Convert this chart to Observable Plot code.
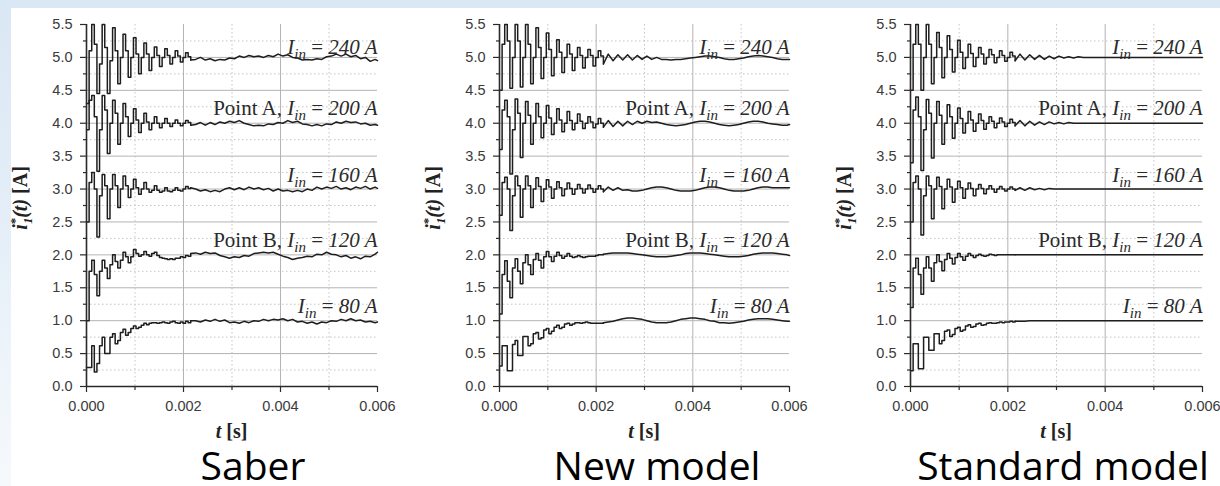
<!DOCTYPE html>
<html>
<head>
<meta charset="utf-8">
<script src="https://cdn.jsdelivr.net/npm/d3@7"></script>
<script src="https://cdn.jsdelivr.net/npm/@observablehq/plot@0.6"></script>
<style>
  html, body { margin: 0; padding: 0; }
  body { width: 1220px; height: 486px; overflow: hidden; position: relative;
         background: linear-gradient(to bottom, #dae7f4 0%, #e6eff8 50%, #f6f9fc 100%); }
  #sheet { position: absolute; left: 11px; top: 8px; width: 1209px; height: 478px; background: #ffffff; }
  .cap { position: absolute; font-family: "Open Sans", sans-serif; font-size: 39px; line-height: 39px;
         color: #000; text-align: center; white-space: nowrap; }
</style>
</head>
<body>
<div id="sheet"></div>
<script>
// ---------- sample times (ms) ----------
const T_MS = [0, 0.054, 0.108, 0.161, 0.215, 0.269, 0.323, 0.376, 0.43, 0.484,
  0.538, 0.591, 0.645, 0.699, 0.753, 0.806, 0.86, 0.914, 0.968, 1.021,
  1.075, 1.129, 1.183, 1.236, 1.29, 1.344, 1.398, 1.451, 1.505, 1.559,
  1.613, 1.666, 1.72, 1.774, 1.828, 1.881, 1.935, 1.989, 2.043, 2.096,
  2.15,
  2.25, 2.35, 2.45, 2.55, 2.65, 2.75, 2.85, 2.95, 3.05, 3.15,
  3.25, 3.35, 3.45, 3.55, 3.65, 3.75, 3.85, 3.95, 4.05, 4.15,
  4.25, 4.35, 4.45, 4.55, 4.65, 4.75, 4.85, 4.95, 5.05, 5.15,
  5.25, 5.35, 5.45, 5.55, 5.65, 5.75, 5.85, 5.95, 6.0];
const STEP_END = 40; // index where the stepped start-up part ends

// ---------- Saber ----------
const saber_240 = [4.3, 5.1, 5.5, 5.2, 4.45, 4.9, 5.5, 5.15, 4.45, 4.95,
  5.45, 5.1, 4.6, 5.0, 5.35, 5.1, 4.7, 5.0, 5.3, 5.05,
  4.75, 5.0, 5.22, 5.05, 4.8, 5.0, 5.16, 5.03, 4.86, 5.0,
  5.13, 5.03, 4.9, 5.0, 5.1, 5.02, 4.93, 5.0, 5.07, 5.01,
  4.96,
  4.97, 5.00, 4.96, 4.98, 4.95, 4.97, 4.96, 4.99, 4.98, 5.02,
  5.00, 5.03, 5.01, 5.02, 5.00, 5.03, 5.01, 5.05, 5.02, 5.04,
  5.00, 4.99, 4.96, 4.97, 4.96, 4.98, 4.97, 5.01, 5.02, 5.05,
  5.02, 5.05, 5.01, 5.03, 4.98, 5.00, 4.94, 4.97, 4.95];
const saber_200 = [3.9, 4.35, 4.42, 4.1, 3.27, 3.9, 4.42, 4.2, 3.54, 4.0,
  4.35, 4.15, 3.68, 4.0, 4.3, 4.1, 3.8, 4.0, 4.22, 4.05,
  3.86, 4.0, 4.15, 4.02, 3.9, 4.0, 4.1, 4.0, 3.93, 4.0,
  4.07, 4.0, 3.95, 4.0, 4.05, 4.0, 3.96, 4.0, 4.04, 4.01,
  3.97,
  3.98, 4.01, 3.97, 4.01, 3.98, 4.02, 4.00, 4.03, 4.01, 4.04,
  4.00, 3.98, 3.96, 3.97, 3.96, 3.99, 3.98, 4.01, 4.00, 4.04,
  4.01, 4.03, 3.99, 3.98, 3.96, 3.98, 3.96, 3.99, 3.98, 4.02,
  4.00, 4.03, 4.01, 4.02, 3.99, 4.00, 3.97, 3.98, 3.97];
const saber_160 = [2.5, 3.1, 3.25, 3.0, 2.27, 2.9, 3.22, 3.05, 2.55, 3.0,
  3.22, 3.05, 2.72, 3.0, 3.2, 3.05, 2.87, 3.0, 3.15, 3.02,
  2.92, 3.0, 3.1, 3.0, 2.95, 2.98, 3.05, 2.98, 2.95, 2.97,
  3.02, 2.97, 2.96, 2.98, 3.02, 2.98, 2.97, 3.0, 3.04, 3.01,
  3.02,
  3.00, 2.97, 2.99, 2.96, 2.98, 2.96, 3.00, 3.02, 2.99, 3.02,
  2.99, 3.03, 3.00, 3.02, 2.99, 3.01, 2.97, 3.00, 2.97, 2.98,
  2.96, 2.98, 2.96, 3.00, 2.98, 3.03, 3.00, 3.03, 3.01, 3.04,
  3.00, 3.02, 2.99, 3.03, 3.01, 3.04, 3.00, 3.03, 3.01];
const saber_120 = [1.0, 1.75, 1.92, 1.7, 1.38, 1.75, 1.92, 1.8, 1.64, 1.85,
  2.0, 1.9, 1.8, 1.92, 2.04, 1.97, 1.88, 1.97, 2.08, 2.02,
  1.98, 2.0, 2.05, 2.0, 1.98, 2.02, 2.04, 1.99, 1.96, 1.95,
  1.94, 1.93, 1.94, 1.93, 1.95, 1.95, 1.97, 1.96, 1.99, 1.98,
  2.02,
  2.03, 2.01, 2.04, 2.02, 2.03, 1.99, 1.97, 1.95, 1.97, 1.96,
  1.99, 1.98, 2.02, 2.03, 2.04, 2.03, 2.04, 2.01, 1.98, 1.96,
  1.93, 1.95, 1.96, 1.98, 1.97, 2.01, 2.00, 2.04, 2.01, 2.00,
  1.97, 1.99, 1.95, 1.97, 1.94, 1.98, 1.97, 2.01, 2.04];
const saber_80 = [0.29, 0.29, 0.62, 0.22, 0.35, 0.62, 0.75, 0.5, 0.5, 0.75,
  0.8, 0.65, 0.7, 0.82, 0.87, 0.78, 0.82, 0.88, 0.92, 0.88,
  0.9, 0.93, 0.96, 0.94, 0.96, 0.97, 0.97, 0.96, 0.97, 0.98,
  0.97, 0.96, 0.98, 0.99, 0.97, 0.96, 0.98, 0.96, 0.99, 0.97,
  1.0,
  1.00, 0.98, 1.01, 0.99, 1.02, 0.99, 1.01, 0.97, 0.98, 0.96,
  0.99, 0.97, 1.00, 0.99, 1.02, 1.00, 1.02, 1.01, 1.03, 1.00,
  1.02, 0.98, 0.99, 0.96, 0.98, 0.95, 0.98, 0.97, 1.00, 0.99,
  1.02, 1.00, 1.03, 1.00, 1.01, 0.98, 0.99, 0.97, 0.98];

// ---------- New model ----------
const newModel_240 = [4.5, 5.2, 5.5, 5.25, 4.53, 5.0, 5.5, 5.25, 4.55, 5.0,
  5.5, 5.2, 4.6, 5.0, 5.45, 5.15, 4.68, 5.0, 5.37, 5.12,
  4.72, 5.0, 5.27, 5.08, 4.77, 5.0, 5.2, 5.05, 4.8, 5.0,
  5.15, 5.03, 4.84, 5.0, 5.12, 5.03, 4.87, 5.0, 5.1, 5.02,
  4.9,
  5.05, 4.95, 5.04, 4.96, 5.04, 4.96, 5.03, 4.97, 5.02, 4.97,
  5.00, 4.97, 4.97, 4.96, 4.97, 4.97, 4.98, 4.99, 5.00, 5.01,
  5.02, 5.02, 5.01, 5.00, 4.98, 4.97, 4.97, 4.98, 4.99, 5.01,
  5.02, 5.03, 5.02, 5.01, 5.00, 4.98, 4.97, 4.97, 4.97];
const newModel_200 = [3.6, 4.2, 4.35, 4.1, 3.23, 3.9, 4.37, 4.15, 3.48, 4.0,
  4.33, 4.12, 3.68, 4.0, 4.3, 4.1, 3.78, 4.0, 4.27, 4.08,
  3.83, 4.0, 4.22, 4.05, 3.87, 4.0, 4.18, 4.04, 3.9, 4.0,
  4.14, 4.03, 3.92, 4.0, 4.1, 4.02, 3.93, 3.99, 4.07, 4.0,
  3.94,
  4.04, 3.95, 4.03, 3.96, 4.03, 3.98, 4.03, 4.00, 4.03, 4.01,
  4.02, 4.00, 3.98, 3.97, 3.96, 3.97, 3.98, 4.00, 4.02, 4.03,
  4.03, 4.02, 4.00, 3.98, 3.97, 3.96, 3.97, 3.98, 4.00, 4.02,
  4.03, 4.03, 4.02, 4.00, 3.99, 3.98, 3.97, 3.97, 3.98];
const newModel_160 = [2.6, 3.1, 3.18, 3.0, 2.37, 2.9, 3.2, 3.05, 2.57, 3.0,
  3.2, 3.05, 2.72, 3.0, 3.17, 3.04, 2.81, 3.0, 3.14, 3.03,
  2.86, 3.0, 3.11, 3.02, 2.9, 3.0, 3.09, 3.01, 2.92, 3.0,
  3.07, 3.01, 2.94, 3.0, 3.06, 3.01, 2.95, 3.0, 3.05, 3.0,
  2.96,
  3.03, 2.98, 3.02, 2.98, 2.99, 2.97, 2.97, 2.98, 3.00, 3.02,
  3.03, 3.03, 3.02, 3.00, 2.98, 2.97, 2.97, 2.97, 2.98, 3.00,
  3.02, 3.03, 3.03, 3.02, 3.00, 2.98, 2.97, 2.97, 2.97, 2.98,
  3.00, 3.02, 3.03, 3.03, 3.02, 3.02, 3.02, 3.02, 3.02];
const newModel_120 = [1.1, 1.7, 1.91, 1.6, 1.35, 1.8, 1.94, 1.75, 1.56, 1.88,
  2.0, 1.85, 1.7, 1.93, 2.02, 1.92, 1.8, 1.97, 2.05, 1.97,
  1.9, 1.98, 2.04, 1.99, 1.95, 1.98, 2.02, 1.98, 1.96, 1.97,
  1.99, 1.97, 1.96, 1.97, 1.98, 1.98, 1.98, 1.99, 2.0, 2.0,
  2.01,
  2.02, 2.03, 2.03, 2.03, 2.03, 2.02, 2.01, 2.00, 1.99, 1.98,
  1.97, 1.97, 1.97, 1.98, 1.99, 2.00, 2.02, 2.03, 2.03, 2.03,
  2.02, 2.01, 2.00, 1.99, 1.98, 1.97, 1.97, 1.97, 1.98, 1.99,
  2.01, 2.02, 2.03, 2.03, 2.03, 2.02, 2.01, 2.00, 1.99];
const newModel_80 = [0.31, 0.62, 0.62, 0.24, 0.24, 0.64, 0.7, 0.47, 0.47, 0.76,
  0.76, 0.62, 0.65, 0.8, 0.82, 0.72, 0.74, 0.86, 0.88, 0.8,
  0.84, 0.9, 0.93, 0.88, 0.9, 0.95, 0.96, 0.93, 0.95, 0.97,
  0.97, 0.96, 0.97, 0.98, 0.97, 0.96, 0.96, 0.96, 0.96, 0.96,
  0.97,
  0.98, 0.99, 1.01, 1.03, 1.04, 1.04, 1.03, 1.02, 1.00, 0.98,
  0.97, 0.97, 0.97, 0.98, 1.00, 1.02, 1.03, 1.04, 1.04, 1.03,
  1.02, 1.00, 0.99, 0.97, 0.97, 0.96, 0.97, 0.98, 0.99, 1.01,
  1.02, 1.03, 1.03, 1.03, 1.02, 1.01, 1.00, 0.99, 0.99];

// ---------- Standard model ----------
const standard_240 = [4.5, 5.2, 5.5, 5.2, 4.5, 5.0, 5.5, 5.2, 4.6, 5.0,
  5.38, 5.15, 4.69, 5.0, 5.33, 5.12, 4.78, 5.0, 5.26, 5.08,
  4.83, 5.0, 5.2, 5.06, 4.86, 5.0, 5.15, 5.05, 4.9, 5.0,
  5.12, 5.04, 4.92, 5.0, 5.1, 5.03, 4.94, 5.0, 5.08, 5.02,
  4.95,
  5.05, 4.96, 5.04, 4.97, 5.03, 4.97, 5.02, 4.98, 5.02, 4.99,
  5.01, 4.99, 5.01, 5.00, 5.00, 5.00, 5.00, 5.00, 5.00, 5.00,
  5.00, 5.00, 5.00, 5.00, 5.00, 5.00, 5.00, 5.00, 5.00, 5.00,
  5.00, 5.00, 5.00, 5.00, 5.00, 5.00, 5.00, 5.00, 5.00];
const standard_200 = [3.4, 4.2, 4.4, 4.1, 3.28, 3.9, 4.36, 4.15, 3.47, 4.0,
  4.33, 4.12, 3.68, 4.0, 4.28, 4.1, 3.77, 4.0, 4.23, 4.07,
  3.85, 4.0, 4.18, 4.05, 3.88, 4.0, 4.14, 4.04, 3.91, 4.0,
  4.1, 4.03, 3.93, 4.0, 4.08, 4.02, 3.95, 4.0, 4.06, 4.01,
  3.96,
  4.04, 3.96, 4.03, 3.97, 4.02, 3.98, 4.02, 3.99, 4.01, 3.99,
  4.01, 4.00, 4.00, 4.00, 4.00, 4.00, 4.00, 4.00, 4.00, 4.00,
  4.00, 4.00, 4.00, 4.00, 4.00, 4.00, 4.00, 4.00, 4.00, 4.00,
  4.00, 4.00, 4.00, 4.00, 4.00, 4.00, 4.00, 4.00, 4.00];
const standard_160 = [2.5, 3.1, 3.2, 3.0, 2.3, 2.9, 3.2, 3.05, 2.55, 3.0,
  3.18, 3.04, 2.7, 3.0, 3.15, 3.03, 2.8, 3.0, 3.12, 3.02,
  2.86, 3.0, 3.09, 3.01, 2.9, 3.0, 3.07, 3.01, 2.93, 3.0,
  3.05, 3.0, 2.95, 3.0, 3.04, 3.0, 2.97, 3.0, 3.03, 3.0,
  2.98,
  3.02, 2.98, 3.02, 2.99, 3.01, 2.99, 3.01, 3.00, 3.00, 3.00,
  3.00, 3.00, 3.00, 3.00, 3.00, 3.00, 3.00, 3.00, 3.00, 3.00,
  3.00, 3.00, 3.00, 3.00, 3.00, 3.00, 3.00, 3.00, 3.00, 3.00,
  3.00, 3.00, 3.00, 3.00, 3.00, 3.00, 3.00, 3.00, 3.00];
const standard_120 = [1.2, 1.8, 1.95, 1.7, 1.4, 1.8, 1.97, 1.8, 1.6, 1.88,
  2.0, 1.9, 1.76, 1.93, 2.02, 1.95, 1.86, 1.96, 2.02, 1.97,
  1.92, 1.98, 2.02, 1.99, 1.96, 1.99, 2.01, 1.99, 1.98, 1.99,
  2.01, 2.0, 1.99, 2.0, 2.0, 2.0, 2.0, 2.0, 2.0, 2.0,
  2.0,
  2.00, 2.00, 2.00, 2.00, 2.00, 2.00, 2.00, 2.00, 2.00, 2.00,
  2.00, 2.00, 2.00, 2.00, 2.00, 2.00, 2.00, 2.00, 2.00, 2.00,
  2.00, 2.00, 2.00, 2.00, 2.00, 2.00, 2.00, 2.00, 2.00, 2.00,
  2.00, 2.00, 2.00, 2.00, 2.00, 2.00, 2.00, 2.00, 2.00];
const standard_80 = [0.24, 0.65, 0.65, 0.27, 0.27, 0.75, 0.75, 0.55, 0.55, 0.8,
  0.8, 0.65, 0.7, 0.84, 0.86, 0.76, 0.79, 0.88, 0.9, 0.84,
  0.86, 0.92, 0.94, 0.9, 0.91, 0.95, 0.96, 0.93, 0.94, 0.96,
  0.97, 0.96, 0.96, 0.97, 0.98, 0.97, 0.98, 0.98, 0.99, 0.98,
  0.99,
  0.99, 0.99, 1.00, 1.00, 1.00, 1.00, 1.00, 1.00, 1.00, 1.00,
  1.00, 1.00, 1.00, 1.00, 1.00, 1.00, 1.00, 1.00, 1.00, 1.00,
  1.00, 1.00, 1.00, 1.00, 1.00, 1.00, 1.00, 1.00, 1.00, 1.00,
  1.00, 1.00, 1.00, 1.00, 1.00, 1.00, 1.00, 1.00, 1.00];

// ---------- labels, ticks, captions ----------
const currents = [240, 200, 160, 120, 80];
const labelPrefix = ["", "Point A, ", "", "Point B, ", ""];
const labelRest = ["240 A", "200 A", "160 A", "120 A", "80 A"];
const labelY = [5.15, 4.22, 3.21, 2.22, 1.22];
const yTicks = [0, 0.5, 1, 1.5, 2, 2.5, 3, 3.5, 4, 4.5, 5, 5.5];
const yMinorTicks = [0.25, 0.75, 1.25, 1.75, 2.25, 2.75, 3.25, 3.75, 4.25, 4.75, 5.25];
const yGridSolid = [0.5, 1, 1.5, 2, 2.5, 3, 3.5, 4, 4.5, 5];
const xTicks = [0, 0.002, 0.004, 0.006];
const xMinorTicks = [0.001, 0.003, 0.005];
const xGridSolid = [0.002, 0.004];
const captions = ["Saber", "New model", "Standard model"];

const panelSeries = [
  [saber_240, saber_200, saber_160, saber_120, saber_80],
  [newModel_240, newModel_200, newModel_160, newModel_120, newModel_80],
  [standard_240, standard_200, standard_160, standard_120, standard_80]
];
const layout = [
  {left: 11,  width: 399, ml: 75,  mr: 33, capLeft: 103, capW: 300},
  {left: 410, width: 400, ml: 89,  mr: 21, capLeft: 507, capW: 300},
  {left: 810, width: 410, ml: 100, mr: 18, capLeft: 893, capW: 340}
];

const SERIF = "'Liberation Serif', 'Times New Roman', serif";
const SANS = "'Liberation Sans', Arial, sans-serif";

panelSeries.forEach((seriesList, p) => {
  const L = layout[p];
  const early = [], late = [];
  seriesList.forEach((vals, k) => {
    const n = Math.min(vals.length, T_MS.length);
    for (let i = 0; i < n; i++) {
      const row = {t: T_MS[i] / 1000, v: vals[i], k: currents[k]};
      if (i <= STEP_END) early.push(row);
      if (i >= STEP_END) late.push(row);
    }
  });
  const labels = currents.map((c, i) => ({y: labelY[i], prefix: labelPrefix[i], rest: labelRest[i],
    full: labelPrefix[i] + "Iin = " + labelRest[i]}));

  const svg = Plot.plot({
    width: L.width, height: 440,
    marginLeft: L.ml, marginRight: L.mr, marginTop: 16, marginBottom: 62,
    style: {background: "transparent", fontFamily: SANS, fontSize: "14.5px", color: "#333", overflow: "visible"},
    x: {domain: [0, 0.006]},
    y: {domain: [0, 5.5]},
    marks: [
      Plot.gridY({ticks: yMinorTicks, stroke: "#c4c4c4", strokeOpacity: 1, strokeWidth: 1, strokeDasharray: "1.5,2.5"}),
      Plot.gridX({ticks: xMinorTicks, stroke: "#c4c4c4", strokeOpacity: 1, strokeWidth: 1, strokeDasharray: "1.5,2.5"}),
      Plot.gridY({ticks: yGridSolid, stroke: "#b4b4b4", strokeOpacity: 1, strokeWidth: 1}),
      Plot.gridX({ticks: xGridSolid, stroke: "#b4b4b4", strokeOpacity: 1, strokeWidth: 1}),
      Plot.line(early, {x: "t", y: "v", z: "k", curve: "step-after", stroke: "#1e1e1e", strokeWidth: 1.5}),
      Plot.line(late, {x: "t", y: "v", z: "k", curve: "linear", stroke: "#1e1e1e", strokeWidth: 1.5}),
      Plot.ruleX([0], {stroke: "#2a2a2a", strokeWidth: 1.6}),
      Plot.ruleY([0], {stroke: "#2a2a2a", strokeWidth: 1.6}),
      Plot.axisY({ticks: yTicks, tickSize: 6, tickPadding: 8, tickFormat: d => d.toFixed(1), label: null, stroke: "#2a2a2a", strokeWidth: 1.2}),
      Plot.axisY({ticks: yMinorTicks, tickSize: 3, tickFormat: () => "", label: null, stroke: "#2a2a2a", strokeWidth: 1.2}),
      Plot.axisX({ticks: xTicks, tickSize: 6, tickPadding: 8, tickFormat: d => d.toFixed(3), label: null, stroke: "#2a2a2a", strokeWidth: 1.2}),
      Plot.axisX({ticks: xMinorTicks, tickSize: 4, tickFormat: () => "", label: null, stroke: "#2a2a2a", strokeWidth: 1.2}),
      Plot.text(labels, {y: "y", frameAnchor: "right", text: "full", textAnchor: "end", fill: "#2a2a2a"})
    ]
  });

  const s = d3.select(svg);
  s.style("position", "absolute").style("left", L.left + "px").style("top", "8px");
  s.selectAll("g[aria-label='y-axis tick label'] text, g[aria-label='x-axis tick label'] text").attr("fill", "#3a3a3a");

  // series labels with subscripts
  s.selectAll("g[aria-label='text'] text").each(function(_, i) {
    const r = labels[i];
    if (!r) return;
    const t = d3.select(this).text(null).attr("dy", null)
      .attr("font-family", SERIF).attr("font-size", 21);
    if (r.prefix) t.append("tspan").text(r.prefix);
    t.append("tspan").attr("font-style", "italic").text("I");
    t.append("tspan").attr("font-style", "italic").attr("font-size", 15).attr("dy", 5).text("in");
    t.append("tspan").attr("dy", -5).text("\u00a0= ");
    t.append("tspan").attr("font-style", "italic").text(r.rest);
  });

  // y-axis title: i*_1(t) [A]
  const yl = s.append("text")
    .attr("transform", `translate(${L.ml - 59},190) rotate(-90)`)
    .attr("text-anchor", "middle").attr("font-family", SERIF).attr("font-weight", "bold")
    .attr("font-size", 20).attr("fill", "#222");
  yl.append("tspan").attr("font-style", "italic").text("i");
  yl.append("tspan").attr("font-size", 13).attr("dy", -8).text("*");
  yl.append("tspan").attr("font-size", 12).attr("font-style", "italic").attr("dx", -6).attr("dy", 13).text("1");
  yl.append("tspan").attr("font-style", "italic").attr("dy", -5).text("(t)");
  yl.append("tspan").text(" [A]");

  // x-axis title: t [s]
  const cx = L.ml + (L.width - L.ml - L.mr) / 2;
  const xl = s.append("text").attr("x", cx).attr("y", 430)
    .attr("text-anchor", "middle").attr("font-family", SERIF).attr("font-weight", "bold")
    .attr("font-size", 20).attr("fill", "#222");
  xl.append("tspan").attr("font-style", "italic").text("t");
  xl.append("tspan").text(" [s]");

  document.body.appendChild(svg);

  const cap = document.createElement("div");
  cap.className = "cap";
  cap.textContent = captions[p];
  cap.style.left = L.capLeft + "px";
  cap.style.width = L.capW + "px";
  cap.style.top = "445px";
  document.body.appendChild(cap);
});
</script>
</body>
</html>
